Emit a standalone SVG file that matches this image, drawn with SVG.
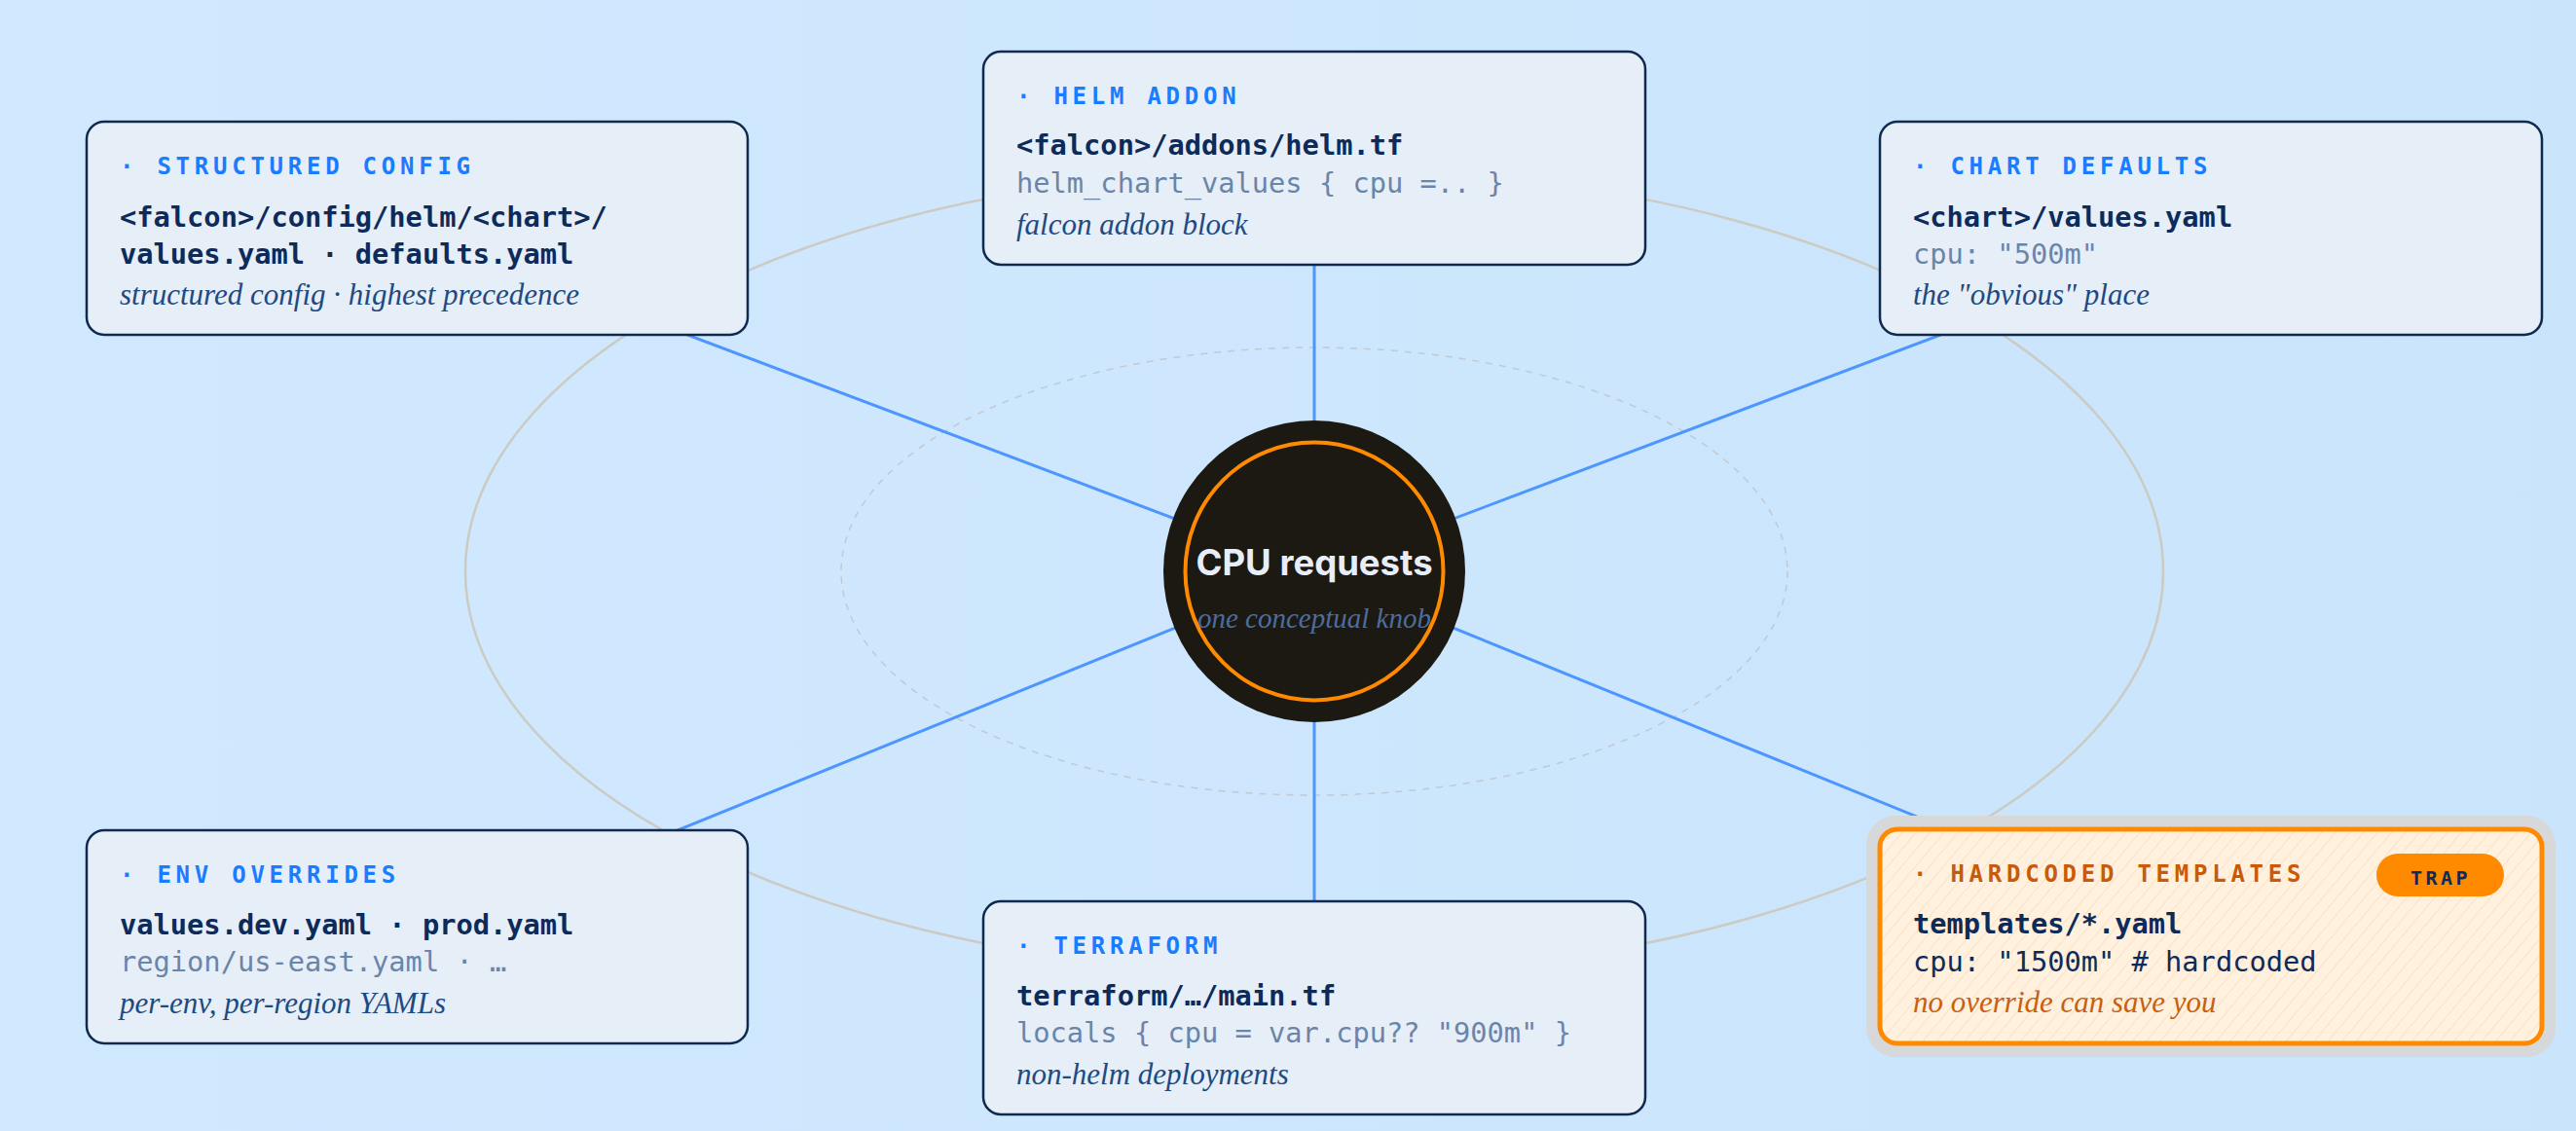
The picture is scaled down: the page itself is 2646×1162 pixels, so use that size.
<svg xmlns="http://www.w3.org/2000/svg" width="2646" height="1162" viewBox="0 0 2646 1162">
<defs>
<linearGradient id="bg" x1="0" y1="0" x2="1" y2="0">
<stop offset="0" stop-color="#d1e9ff"/>
<stop offset="1" stop-color="#c9e4fb"/>
</linearGradient>
<pattern id="stripes" patternUnits="userSpaceOnUse" width="11" height="11" patternTransform="rotate(40)">
<rect width="11" height="11" fill="#fff1dd"/>
<line x1="0" y1="0" x2="0" y2="11" stroke="#f7dcc0" stroke-width="1.5"/>
</pattern>
<style>
.box{fill:#e6eef8;stroke:#0f2a4f;stroke-width:2.5}
.title{font-family:"DejaVu Sans Mono","Liberation Mono",monospace;font-weight:700;font-size:24px;letter-spacing:4.75px;fill:#1a7cff}
.main{font-family:"DejaVu Sans Mono","Liberation Mono",monospace;font-weight:700;font-size:28.7px;fill:#0d2b5a}
.sub{font-family:"DejaVu Sans Mono","Liberation Mono",monospace;font-size:28.7px;fill:#6b85a8}
.note{font-family:"Liberation Serif","Times New Roman",serif;font-style:italic;font-size:31px;fill:#1e4a82}
.conn{stroke:#4d96ff;stroke-width:3;fill:none}
</style>
</defs>
<rect width="2646" height="1162" fill="url(#bg)"/>
<ellipse cx="1350" cy="587" rx="872" ry="415" fill="none" stroke="#cbcbc3" stroke-width="2.5"/>
<ellipse cx="1350" cy="587" rx="486" ry="230" fill="none" stroke="#c2c9d0" stroke-width="1.5" stroke-dasharray="7 7"/>
<g id="connectors">
<line class="conn" x1="1350" y1="587" x2="428" y2="239"/>
<line class="conn" x1="1350" y1="587" x2="1350" y2="162"/>
<line class="conn" x1="1350" y1="587" x2="2271" y2="239"/>
<line class="conn" x1="1350" y1="587" x2="428" y2="962"/>
<line class="conn" x1="1350" y1="587" x2="1350" y2="1035"/>
<line class="conn" x1="1350" y1="587" x2="2271" y2="962"/>
</g>
<g id="center">
<circle cx="1350" cy="587" r="155" fill="#1c1812"/>
<circle cx="1350" cy="587" r="132.5" fill="none" stroke="#ff8a00" stroke-width="4"/>
<text x="1350" y="591" text-anchor="middle" font-family="Inter,'Liberation Sans',sans-serif" font-weight="700" font-size="36.5" fill="#e8eef8">CPU requests</text>
<text x="1350" y="645" text-anchor="middle" font-family="'Liberation Serif',serif" font-style="italic" font-size="29" fill="#4c6d9c">one conceptual knob</text>
</g>
<g id="structured-config">
<rect class="box" x="89" y="125" width="679" height="219" rx="18"/>
<text class="title" x="123" y="179">· STRUCTURED CONFIG</text>
<text class="main" x="123" y="233">&lt;falcon&gt;/config/helm/&lt;chart&gt;/</text>
<text class="main" x="123" y="271">values.yaml · defaults.yaml</text>
<text class="note" x="123" y="313">structured config · highest precedence</text>
</g>
<g id="helm-addon">
<rect class="box" x="1010" y="53" width="680" height="219" rx="18"/>
<text class="title" x="1044" y="107">· HELM ADDON</text>
<text class="main" x="1044" y="159">&lt;falcon&gt;/addons/helm.tf</text>
<text class="sub" x="1044" y="198">helm_chart_values { cpu =.. }</text>
<text class="note" x="1044" y="241">falcon addon block</text>
</g>
<g id="chart-defaults">
<rect class="box" x="1931" y="125" width="680" height="219" rx="18"/>
<text class="title" x="1965" y="179">· CHART DEFAULTS</text>
<text class="main" x="1965" y="233">&lt;chart&gt;/values.yaml</text>
<text class="sub" x="1965" y="271">cpu: "500m"</text>
<text class="note" x="1965" y="313">the "obvious" place</text>
</g>
<g id="env-overrides">
<rect class="box" x="89" y="853" width="679" height="219" rx="18"/>
<text class="title" x="123" y="907">· ENV OVERRIDES</text>
<text class="main" x="123" y="960">values.dev.yaml · prod.yaml</text>
<text class="sub" x="123" y="998">region/us-east.yaml · …</text>
<text class="note" x="123" y="1041">per-env, per-region YAMLs</text>
</g>
<g id="terraform">
<rect class="box" x="1010" y="926" width="680" height="219" rx="18"/>
<text class="title" x="1044" y="980">· TERRAFORM</text>
<text class="main" x="1044" y="1033">terraform/…/main.tf</text>
<text class="sub" x="1044" y="1071">locals { cpu = var.cpu?? "900m" }</text>
<text class="note" x="1044" y="1114">non-helm deployments</text>
</g>
<g id="hardcoded-templates">
<rect x="1917" y="838" width="708" height="248" rx="30" fill="#d6d8da"/>
<rect x="1931" y="852" width="680" height="220" rx="18" fill="url(#stripes)" stroke="#ff8a00" stroke-width="5"/>
<text class="title" x="1965" y="906" style="fill:#c85a0a">· HARDCODED TEMPLATES</text>
<rect x="2441" y="877" width="131" height="44" rx="22" fill="#ff8a00"/>
<text x="2507" y="909" text-anchor="middle" font-family="'DejaVu Sans Mono',monospace" font-weight="700" font-size="20" letter-spacing="3.5" fill="#0d2b5a">TRAP</text>
<text class="main" x="1965" y="959">templates/*.yaml</text>
<text class="sub" x="1965" y="998" style="fill:#0d2b5a">cpu: "1500m" # hardcoded</text>
<text class="note" x="1965" y="1040" style="fill:#c8600f">no override can save you</text>
</g>
</svg>
